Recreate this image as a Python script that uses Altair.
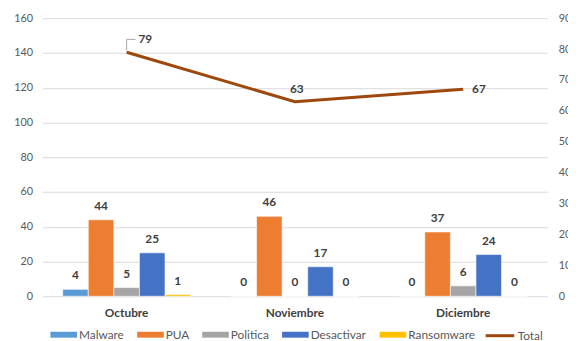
import altair as alt
import pandas as pd

meses = ["Octubre", "Noviembre", "Diciembre"]
series = ["Malware", "PUA", "Politica", "Desactivar", "Ransomware"]
malware = [4, 0, 0]
pua = [44, 46, 37]
politica = [5, 0, 6]
desactivar = [25, 17, 24]
ransomware = [1, 0, 0]
total = [79, 63, 67]
colores = ["#5B9BD5", "#ED7D31", "#A5A5A5", "#4472C4", "#FFC000"]
color_total = "#9E480E"
ticks_izq = [0, 20, 40, 60, 80, 100, 120, 140, 160]
ticks_der = [0, 10, 20, 30, 40, 50, 60, 70, 80, 90]

rows = []
for s, vals in zip(series, [malware, pua, politica, desactivar, ransomware]):
    for m, v in zip(meses, vals):
        rows.append({"mes": m, "serie": s, "valor": v})
bars_df = pd.DataFrame(rows)
tot_df = pd.DataFrame({"mes": meses, "serie": ["Total"] * 3, "valor": total})

FONT = "Lato"
TXT = "#404040"
AX = "#595959"

legend_bars = alt.Legend(
    title=None, orient="none", legendX=7, legendY=315, direction="horizontal",
    columns=5, symbolSize=100, symbolStrokeWidth=0, labelOffset=18,
    symbolType="M-1,-0.6H4.4V0.6H-1Z",
    columnPadding=12, labelFontSize=12, labelColor=AX, labelFont=FONT,
)
legend_line = alt.Legend(
    title=None, orient="none", legendX=448, legendY=306, direction="horizontal",
    symbolType="stroke", symbolSize=841, symbolStrokeWidth=3, labelOffset=2,
    labelFontSize=12, labelColor=AX, labelFont=FONT,
)

x_enc = alt.X(
    "mes:N", sort=meses,
    scale=alt.Scale(paddingInner=0.24, paddingOuter=0.12),
    axis=alt.Axis(title=None, labelAngle=0, domain=False, ticks=False, labelPadding=12,
                  labelFontWeight="bold", labelFontSize=12, labelColor=TXT, labelFont=FONT),
)
y_left = alt.Y(
    "valor:Q", scale=alt.Scale(domain=[0, 160], nice=False),
    axis=alt.Axis(title=None, values=ticks_izq, domain=False, ticks=False, labelPadding=10,
                  labelFontSize=11, labelColor=AX, labelFont=FONT, grid=True,
                  gridColor="#D9D9D9", gridWidth=1),
)
y_right = alt.Y(
    "valor:Q", scale=alt.Scale(domain=[0, 90], nice=False),
    axis=alt.Axis(title=None, orient="right", values=ticks_der, domain=False, ticks=False,
                  labelPadding=11, labelFontSize=11, labelColor=AX, labelFont=FONT, grid=False),
)

base_bars = alt.Chart(bars_df).encode(
    x=x_enc,
    xOffset=alt.XOffset("serie:N", sort=series, scale=alt.Scale(paddingInner=0, paddingOuter=0)),
    y=y_left,
)
bars = base_bars.mark_bar(stroke="white", strokeWidth=0.6).encode(
    color=alt.Color("serie:N", sort=series, scale=alt.Scale(domain=series, range=colores),
                    legend=legend_bars)
)
bar_text = base_bars.mark_text(dy=-14, fontWeight="bold", fontSize=12, color=TXT, font=FONT).encode(
    text="valor:Q"
)

line_base = alt.Chart(tot_df).encode(x=x_enc, y=y_right)
line = line_base.mark_line(strokeWidth=3).encode(
    stroke=alt.Stroke("serie:N", scale=alt.Scale(domain=["Total"], range=[color_total]),
                      legend=legend_line)
)
lab_style = dict(fontWeight="bold", fontSize=12, color=TXT, font=FONT)
first = line_base.transform_filter(alt.datum.mes == meses[0])
lab1 = first.mark_text(align="left", dx=12, dy=-13, **lab_style).encode(text="valor:Q")
leader_v = first.mark_rule(color="#A6A6A6", strokeWidth=1, yOffset=-2, y2Offset=-13).encode(
    y2=alt.Y2("valor:Q"))
leader_h = first.mark_rule(color="#A6A6A6", strokeWidth=1, xOffset=0, x2Offset=9,
                           yOffset=-13).encode(x2=alt.X2("mes:N"))
lab2 = line_base.transform_filter(alt.datum.mes == meses[1]).mark_text(
    align="center", dx=2, dy=-13, **lab_style).encode(text="valor:Q")
lab3 = line_base.transform_filter(alt.datum.mes == meses[2]).mark_text(
    align="left", dx=9, dy=0, **lab_style).encode(text="valor:Q")

chart = alt.layer(
    alt.layer(bars, bar_text),
    alt.layer(line, leader_v, leader_h, lab1, lab2, lab3),
).resolve_scale(y="independent").properties(
    width=512, height=282, autosize="none",
    padding={"left": 35, "top": 8, "right": 21, "bottom": 43},
    background="white",
).configure_view(stroke=None)

chart.save("out.html", embed_options={"renderer": "svg", "actions": False})
